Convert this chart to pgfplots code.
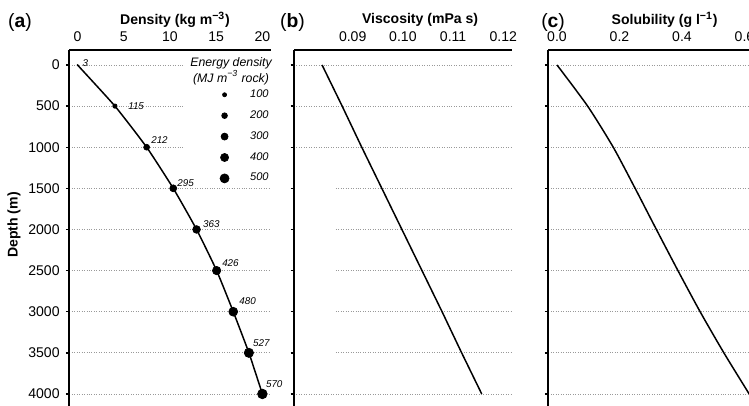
\documentclass[border=0pt]{standalone}
\usepackage{fontspec}
\setmainfont{Liberation Sans}
\usepackage{pgfplots}
\pgfplotsset{compat=1.18}
\usepackage{pgfplotstable}

% depth (m), density (kg m-3), energy density (MJ m-3 rock), label offsets (px)
\pgfplotstableread{
depth dens energy dx dy
0     0.00  3   4.7  -2.3
500   4.05  115 13.0  0.3
1000  7.48  212 4.3  -7.0
1500  10.36 295 3.7  -5.0
2000  12.88 363 6.3  -5.0
2500  15.05 426 5.3  -7.0
3000  16.85 480 5.7  -11.0
3500  18.54 527 4.0  -10.0
4000  20.00 570 3.3  -10.0
}\densdata

\pgfplotstableread{
depth visc
0     0.0839
500   0.0879
1000  0.0918
1500  0.0958
2000  0.0998
2500  0.1038
3000  0.1078
3500  0.1117
4000  0.1157
}\viscdata

\pgfplotstableread{
depth sol
0     0.000
500   0.098
1000  0.180
1500  0.250
2000  0.318
2500  0.387
3000  0.458
3500  0.534
4000  0.615
}\soldata

\pgfplotsset{
  panel/.style={
    scale only axis, height=7.208cm, anchor=north west,
    axis x line*=top, axis y line*=left,
    y dir=reverse, ymin=-182, ymax=4200,
    ytick={0,500,...,4000},
    ymajorgrids,
    grid style={densely dotted, gray!80, line width=0.4pt},
    axis line style={line width=1.1pt, -},
    xtick style={draw=none},
    ytick style={line width=0.8pt, black},
    tick align=outside,
    major tick length=0.07cm,
    tick label style={font=\fontsize{8}{9}\selectfont},
    /pgf/number format/assume math mode=true,
    /pgf/number format/set thousands separator={},
    xticklabel style={yshift=-0.02cm},
    clip=false,
  },
}

\begin{document}
\begin{tikzpicture}
\useasboundingbox (0,0) rectangle (14.98cm,-8.12cm);
\clip (0,0) rectangle (14.98cm,-8.12cm);

% (a) density
\begin{axis}[panel,
  at={(1.386cm,-1.0cm)}, width=4.028cm,
  xmin=-0.886, xmax=20.9, xtick={0,5,10,15,20},
  colormap={allblack}{color=(black) color=(black)},
  legend style={at={(axis description cs:0.732,0.897)}, anchor=north west,
    draw=none, fill=none, inner sep=0pt, row sep=3.6pt,
    font=\fontsize{6.3}{7}\selectfont\itshape, nodes={inner sep=1.2pt}},
  legend cell align=left,
  legend image code/.code={\draw[#1] plot coordinates {(0.15cm,0cm)};
    \path[draw=none] (0cm,0cm) -- (0.62cm,0cm);},
]
  \fill[white] (axis cs:11.62,-122) rectangle (axis cs:20.9,1398);
  \addplot[black, line width=0.85pt, smooth, tension=0.3, forget plot]
    table[x=dens, y=depth] {\densdata};
  % markers sized by energy density
  \addplot[scatter, only marks, mark=*, forget plot,
    point meta=\thisrow{energy},
    visualization depends on={1.15*sqrt(\thisrow{energy}/100) \as \msize},
    scatter/@pre marker code/.append style={/tikz/mark size=\msize},
  ] table[x=dens, y=depth] {\densdata};
  % energy density labels
  \addplot[only marks, mark=none, forget plot,
    point meta=\thisrow{energy},
    visualization depends on={\thisrow{dx} \as \ldx},
    visualization depends on={\thisrow{dy} \as \ldy},
    nodes near coords={\pgfmathprintnumber[int detect]{\pgfplotspointmeta}},
    every node near coord/.append style={anchor=west, inner sep=0pt, black,
      font=\fontsize{5.6}{6}\selectfont\itshape,
      xshift={\ldx*0.569pt}, yshift={-\ldy*0.569pt}},
  ] table[x=dens, y=depth] {\densdata};
  \addlegendimage{only marks, mark=*, black, mark size=1.15pt}
  \addlegendentry{100}
  \addlegendimage{only marks, mark=*, black, mark size=1.63pt}
  \addlegendentry{200}
  \addlegendimage{only marks, mark=*, black, mark size=2.0pt}
  \addlegendentry{300}
  \addlegendimage{only marks, mark=*, black, mark size=2.3pt}
  \addlegendentry{400}
  \addlegendimage{only marks, mark=*, black, mark size=2.57pt}
  \addlegendentry{500}
\end{axis}

% (b) viscosity
\begin{axis}[panel,
  at={(5.88cm,-1.0cm)}, width=4.354cm,
  xmin=0.07831, xmax=0.12167, xtick={0.09,0.10,0.11,0.12},
  xticklabel style={/pgf/number format/.cd, fixed, fixed zerofill, precision=2},
  scaled x ticks=false,
  yticklabels={},
]
  \fill[white] (axis cs:0.07865,1277) rectangle (axis cs:0.08628,3708);
  \addplot[black, line width=0.85pt] table[x=visc, y=depth] {\viscdata};
\end{axis}

% (c) solubility
\begin{axis}[panel,
  at={(10.966cm,-1.0cm)}, width=4.236cm,
  xmin=-0.0278, xmax=0.65, xtick={0,0.2,0.4,0.6},
  xticklabel style={/pgf/number format/.cd, fixed, fixed zerofill, precision=1},
  yticklabels={},
]
  \addplot[black, line width=0.85pt, smooth, tension=0.4] table[x=sol, y=depth] {\soldata};
\end{axis}

\begin{scope}[x=0.02cm, y=-0.02cm]
  \node[font=\fontsize{11}{13}\selectfont] at (20,22) {(\textbf{a})};
  \node[font=\fontsize{11}{13}\selectfont] at (292.5,22) {(\textbf{b})};
  \node[font=\fontsize{11}{13}\selectfont] at (553,22) {(\textbf{c})};
  \node[font=\fontsize{8}{9}\selectfont\bfseries] at (175,20) {Density (kg m\textsuperscript{−3})};
  \node[font=\fontsize{8}{9}\selectfont\bfseries] at (420,20) {Viscosity (mPa s)};
  \node[font=\fontsize{8}{9}\selectfont\bfseries] at (664.5,20) {Solubility (g l\textsuperscript{−1})};
  \node[font=\fontsize{8}{9}\selectfont\bfseries, rotate=90] at (14,225) {Depth (m)};
  \node[font=\fontsize{7}{6.9}\selectfont\itshape, align=center] at (231,71)
    {Energy density\\(MJ m\textsuperscript{−3} rock)};
\end{scope}
\end{tikzpicture}
\end{document}
